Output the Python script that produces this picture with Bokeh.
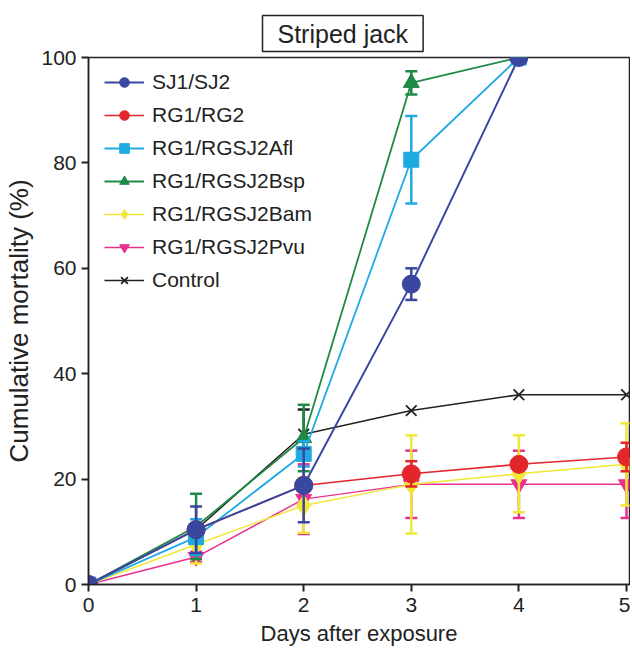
from bokeh.plotting import figure
from bokeh.models import Range1d, Legend, LegendItem, FixedTicker, Title
from bokeh.embed import file_html
from bokeh.resources import INLINE

FONT = "Liberation Sans"

title_text = "Striped jack"
x_label = "Days after exposure"
y_label = "Cumulative mortality (%)"

x_ticks = [0, 1, 2, 3, 4, 5]
y_ticks = [0, 20, 40, 60, 80, 100]

series_names = ["SJ1/SJ2", "RG1/RG2", "RG1/RGSJ2Afl", "RG1/RGSJ2Bsp",
                "RG1/RGSJ2Bam", "RG1/RGSJ2Pvu", "Control"]

days_sj = [0, 1, 2, 3, 4]
sj1_sj2 = [0, 10.4, 18.8, 57.0, 100]
sj1_sj2_err = [0, 4.4, 7.0, 3.0, 0]

days_rg = [0, 1, 2, 3, 4, 5]
rg1_rg2 = [0, 10.4, 18.8, 21.0, 22.8, 24.2]
rg1_rg2_err = [0, 0, 0, 2.4, 0, 2.7]

days_afl = [0, 1, 2, 3, 4]
afl = [0, 9.0, 24.8, 80.6, 100]
afl_err = [0, 3.4, 2.4, 8.3, 0]

days_bsp = [0, 1, 2, 3, 4]
bsp = [0, 11.0, 27.8, 95.2, 100]
bsp_err = [0, 6.2, 6.3, 2.2, 0]

days_bam = [0, 1, 2, 3, 4, 5]
bam = [0, 7.6, 15.0, 19.0, 21.0, 22.8]
bam_err = [0, 3.6, 5.2, 9.3, 7.3, 7.8]

days_pvu = [0, 1, 2, 3, 4, 5]
pvu = [0, 5.2, 16.2, 19.0, 19.0, 19.0]
pvu_err = [0, 1.0, 6.6, 6.4, 6.4, 6.4]

days_ctrl = [0, 1, 2, 3, 4, 5]
control = [0, 10.4, 28.5, 33.0, 36.0, 36.0]
control_err = [0, 0, 4.7, 0, 0, 0]

p = figure(width=630, height=648, output_backend="svg", toolbar_location=None,
           x_range=Range1d(0, 5.028), y_range=Range1d(0, 100),
           min_border_left=88, min_border_right=1, min_border_top=57,
           min_border_bottom=61)
p.background_fill_color = "white"
p.border_fill_color = "white"
p.outline_line_color = "#222222"
p.outline_line_width = 1.5
p.xgrid.visible = False
p.ygrid.visible = False

p.title = Title(text=title_text, align="left", offset=174, standoff=12,
                vertical_align="bottom",
                text_font=FONT, text_font_size="25px", text_font_style="normal",
                text_color="#222222", border_line_color="#222222",
                border_line_width=1.5, background_fill_color="white",
                padding=dict(left=15, right=15, top=4, bottom=4))
p.title_location = "above"

for ax in (p.xaxis[0], p.yaxis[0]):
    ax.axis_line_color = "#222222"
    ax.axis_line_width = 1.5
    ax.major_tick_line_color = "#222222"
    ax.major_tick_line_width = 2
    ax.major_tick_out = 7
    ax.major_tick_in = 0
    ax.minor_tick_line_color = None
    ax.major_label_text_font = FONT
    ax.major_label_text_font_size = "21px"
    ax.major_label_text_color = "#222222"
    ax.axis_label_text_font = FONT
    ax.axis_label_text_font_style = "normal"
    ax.axis_label_text_color = "#222222"

p.xaxis[0].ticker = FixedTicker(ticks=x_ticks)
p.yaxis[0].ticker = FixedTicker(ticks=y_ticks)
p.xaxis[0].axis_label = x_label
p.yaxis[0].axis_label = y_label
p.xaxis[0].axis_label_text_font_size = "22px"
p.yaxis[0].axis_label_text_font_size = "26px"
p.xaxis[0].major_label_standoff = 6
p.yaxis[0].major_label_standoff = 5
p.xaxis[0].axis_label_standoff = 6
p.yaxis[0].axis_label_standoff = 4

styles = [
    # name, x, y, err, color, marker, size, line width
    ("Control", days_ctrl, control, control_err, "#222222", "x", 15, 1.5),
    ("RG1/RGSJ2Pvu", days_pvu, pvu, pvu_err, "#e8318e", "inverted_triangle", 16, 1.5),
    ("RG1/RGSJ2Bam", days_bam, bam, bam_err, "#f0e836", "diamond", 21, 1.5),
    ("RG1/RGSJ2Bsp", days_bsp, bsp, bsp_err, "#1f8a46", "triangle", 16, 1.8),
    ("RG1/RGSJ2Afl", days_afl, afl, afl_err, "#1ea9e1", "square", 15, 1.8),
    ("RG1/RG2", days_rg, rg1_rg2, rg1_rg2_err, "#e3262b", "circle", 18, 1.5),
    ("SJ1/SJ2", days_sj, sj1_sj2, sj1_sj2_err, "#3a47a0", "circle", 18, 2.0),
]

items = {}
for name, xs, ys, es, color, marker, size, lw in styles:
    ex = [x for x, e in zip(xs, es) if e > 0]
    ey = [y for y, e in zip(ys, es) if e > 0]
    ee = [e for e in es if e > 0]
    if ex:
        lo = [y - e for y, e in zip(ey, ee)]
        hi = [y + e for y, e in zip(ey, ee)]
        p.segment(x0=ex, y0=lo, x1=ex, y1=hi, line_color=color, line_width=2.5)
        p.scatter(x=ex + ex, y=lo + hi, marker="dash", size=12,
                  line_color=color, line_width=2.5)
    r_line = p.line(x=xs, y=ys, line_color=color, line_width=lw)
    if marker == "x":
        r_mark = p.scatter(x=xs, y=ys, marker="x", size=size, line_color=color,
                           line_width=1.8)
    else:
        r_mark = p.scatter(x=xs, y=ys, marker=marker, size=size, fill_color=color,
                           line_color=color, line_width=1)
    items[name] = [r_line, r_mark]

legend = Legend(items=[LegendItem(label=n, renderers=items[n]) for n in series_names],
                location=(16, 292), orientation="vertical")
legend.label_text_font = FONT
legend.label_text_font_size = "21px"
legend.label_text_color = "#222222"
legend.glyph_width = 40
legend.glyph_height = 24
legend.label_height = 24
legend.spacing = 9
legend.padding = 0
legend.margin = 0
legend.label_standoff = 8
legend.border_line_color = None
legend.background_fill_alpha = 0
p.add_layout(legend, "center")

open("out.html", "w").write(file_html(p, INLINE))
